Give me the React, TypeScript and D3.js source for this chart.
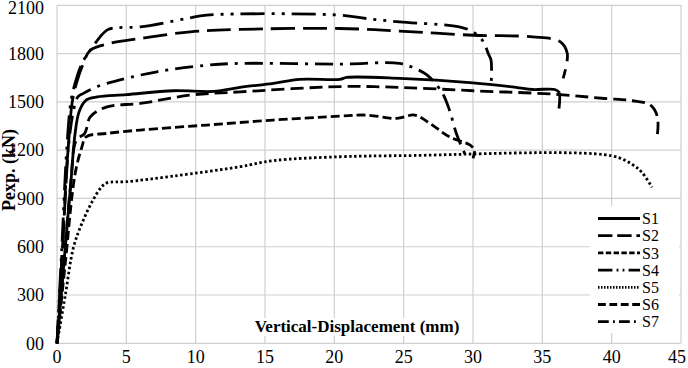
import * as d3 from 'd3';

type Pt = [number, number];

// x = vertical displacement (mm), y = Pexp (kN)
const S1: Pt[] = [[0,0],[0.5,500],[1.0,1000],[1.3,1300],[1.6,1440],[2.1,1511],[2.9,1531],[5,1545],[8.4,1569],[11.3,1565],[13.2,1590],[15.6,1615],[17.5,1640],[20.4,1640],[20.9,1652],[24.7,1646],[30,1618],[33.1,1590],[34.3,1577],[35.9,1577],[36.2,1560],[36.2,1459]];
const S2: Pt[] = [[0,0],[0.4,600],[0.8,1200],[1.1,1500],[1.4,1615],[1.9,1739],[2.4,1821],[3.8,1863],[6,1894],[9.6,1935],[13.2,1950],[20.4,1956],[24.7,1940],[30,1914],[34.3,1904],[36.3,1873],[36.8,1800],[36.5,1646]];
const S3: Pt[] = [[0,0],[0.6,500],[1.3,1050],[1.8,1221],[2.1,1283],[3.6,1304],[6,1325],[10.8,1356],[15.6,1387],[20.4,1411],[22.3,1418],[24.5,1397],[25.8,1418],[26.9,1366],[28.3,1283],[29.8,1231],[30.1,1200],[30,1149]];
const S4: Pt[] = [[0,0],[0.35,600],[0.7,1200],[1.0,1500],[1.3,1615],[1.8,1739],[2.4,1821],[3.6,1946],[4.3,1960],[6,1966],[9.35,2018],[10.8,2039],[20.4,2039],[22.3,2018],[24.7,1997],[29,1966],[30,1935],[30.7,1880],[31.1,1800],[31.3,1759],[31.3,1594]];
const S5: Pt[] = [[0,0],[0.6,300],[1.2,600],[1.9,766],[2.6,890],[3.2,970],[3.6,997],[5,1004],[8.4,1039],[13.2,1097],[15.6,1135],[20.4,1159],[25,1166],[40,1165],[41.5,1110],[42.2,1060],[42.9,970]];
const S6: Pt[] = [[0,0],[0.5,500],[1.0,1000],[1.4,1262],[2.0,1304],[2.4,1407],[3.6,1469],[6,1490],[9.6,1542],[13.2,1562],[20.4,1595],[24.7,1590],[30,1569],[35.8,1548],[39.5,1521],[41.5,1507],[42.8,1480],[43.3,1407],[43.3,1300]];
const S7: Pt[] = [[0,0],[0.4,600],[0.8,1200],[1.2,1450],[1.5,1531],[1.9,1553],[2.6,1584],[3.6,1615],[7.2,1687],[10.8,1728],[13.2,1739],[20.4,1735],[24.7,1739],[25.8,1708],[26.7,1666],[27.8,1553],[28.3,1449],[28.8,1304],[29.4,1180],[29.6,1150]];

const seriesNames = ['S1', 'S2', 'S3', 'S4', 'S5', 'S6', 'S7'];
const seriesData = [S1, S2, S3, S4, S5, S6, S7];
const dashes = ['', '24 8', '9 4', '24 7 3 7 3 7', '2.5 2.5', '13 6', '18 7 3 7'];

const xTicks = [0, 5, 10, 15, 20, 25, 30, 35, 40, 45];
const yTicks = [0, 300, 600, 900, 1200, 1500, 1800, 2100];
const yTickLabels = ['00', '300', '600', '900', '1200', '1500', '1800', '2100'];

const W = 688;
const H = 368;
const serif = { fontFamily: "'Liberation Serif', 'DejaVu Serif', serif" };

export default function App() {
  const x = d3.scaleLinear().domain([0, 45]).range([57, 681]);
  const y = d3.scaleLinear().domain([0, 2100]).range([343.3, 5.3]);

  const line = d3
    .line<Pt>()
    .x((d) => x(d[0]))
    .y((d) => y(d[1]))
    .curve(d3.curveCatmullRom.alpha(0.5));

  const grid = '#cfcfcf';

  return (
    <svg
      width={W}
      height={H}
      style={{ position: 'absolute', left: 0, top: 0, background: '#fff' }}
    >
      {/* gridlines */}
      {yTicks.map((t) => (
        <line key={`yg-${t}`} x1={x(0)} x2={x(45)} y1={y(t)} y2={y(t)} stroke={grid} strokeWidth={1.2} />
      ))}
      {xTicks.map((t) => (
        <line key={`xg-${t}`} x1={x(t)} x2={x(t)} y1={y(0)} y2={y(2100)} stroke={grid} strokeWidth={1.2} />
      ))}

      {/* tick labels */}
      {yTicks.map((t, i) => (
        <text key={`yl-${t}`} x={44} y={Math.max(y(t), 8)} dy="0.35em" textAnchor="end" fontSize={18} style={serif} fill="#000">
          {yTickLabels[i]}
        </text>
      ))}
      {xTicks.map((t) => (
        <text key={`xl-${t}`} x={t === 45 ? x(t) - 4 : x(t)} y={363} textAnchor="middle" fontSize={18} style={serif} fill="#000">
          {t}
        </text>
      ))}

      {/* axis titles */}
      <text
        transform={`translate(15, ${170}) rotate(-90)`}
        textAnchor="middle"
        fontSize={18}
        fontWeight={700}
        style={serif}
        fill="#000"
      >
        Pexp. (kN)
      </text>

      {/* series */}
      {seriesData.map((s, i) => (
        <path
          key={seriesNames[i]}
          d={line(s) ?? undefined}
          fill="none"
          stroke="#000"
          strokeWidth={2.8}
          strokeDasharray={dashes[i] || undefined}
        />
      ))}

      <rect x={255} y={318} width={206} height={18} fill="#fff" />
      <text x={357} y={332} textAnchor="middle" fontSize={17} fontWeight={700} style={serif} fill="#000">
        Vertical-Displacement (mm)
      </text>

      {/* legend */}
      <rect x={590} y={206} width={89} height={127} fill="#fff" />
      {seriesNames.map((n, i) => {
        const cy = 218.5 + i * 17.2;
        return (
          <g key={`lg-${n}`}>
            <line x1={598} x2={640} y1={cy} y2={cy} stroke="#000" strokeWidth={2.8} strokeDasharray={dashes[i] ? dashes[i].split(' ').map((v) => +v * 0.6).join(' ') : undefined} />
            <text x={642} y={cy} dy="0.35em" fontSize={16} style={serif} fill="#000">
              {n}
            </text>
          </g>
        );
      })}
    </svg>
  );
}
